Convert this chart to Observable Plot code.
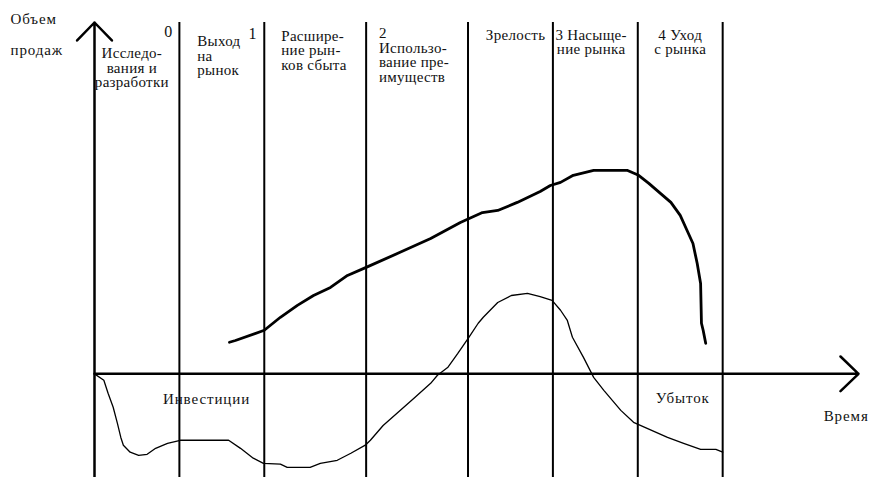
<!DOCTYPE html>
<html><head><meta charset="utf-8">
<script src="https://cdn.jsdelivr.net/npm/d3@7"></script>
<script src="https://cdn.jsdelivr.net/npm/@observablehq/plot@0.6"></script>
<style>
html,body{margin:0;padding:0;background:#fff;}
svg text{font-family:"Liberation Serif","Times New Roman",serif;}
</style>
</head><body><div id="chart"></div>
<script>
// Time axis (stage units) and value axis extents
const xAxisSpan = [0, 9];
const yAxisSpan = [-2.95, 10];

// Stage boundaries along the time axis
const stageBounds = [1, 2, 3.2, 4.4, 5.4, 6.4, 7.4];

// Sales volume curve (thick)
const salesTime = [1.59,1.66,2.00,2.19,2.39,2.58,2.78,2.98,3.20,3.60,3.96,4.31,4.57,4.75,4.98,5.25,5.37,5.49,5.64,5.88,6.28,6.41,6.53,6.67,6.79,6.90,6.99,7.05,7.10,7.14,7.15,7.17,7.20];
const salesVolume = [0.90,0.95,1.24,1.61,1.95,2.23,2.46,2.80,3.03,3.46,3.85,4.31,4.59,4.65,4.88,5.19,5.36,5.45,5.65,5.79,5.79,5.65,5.42,5.13,4.88,4.51,4.03,3.71,3.14,2.57,1.44,1.24,0.87];

// Profit / investment curve (thin)
const profitTime = [0,0.11,0.16,0.22,0.27,0.31,0.34,0.42,0.52,0.62,0.72,0.86,1.01,1.58,1.72,1.87,1.99,2.19,2.27,2.54,2.66,2.86,3.02,3.19,3.25,3.40,3.60,3.76,3.96,4.04,4.16,4.28,4.41,4.52,4.58,4.75,4.91,5.10,5.25,5.39,5.49,5.57,5.63,5.76,5.88,6.00,6.20,6.35,6.51,6.75,6.94,7.14,7.32,7.40];
const profitValue = [0,-0.18,-0.55,-0.95,-1.41,-1.81,-2.03,-2.23,-2.32,-2.29,-2.12,-1.98,-1.89,-1.89,-2.12,-2.40,-2.55,-2.57,-2.66,-2.66,-2.55,-2.46,-2.26,-2.03,-1.89,-1.47,-1.04,-0.70,-0.27,-0.04,0.18,0.58,1.04,1.44,1.61,2.03,2.23,2.29,2.20,2.09,1.81,1.52,1.04,0.47,-0.10,-0.47,-1.04,-1.38,-1.55,-1.81,-1.98,-2.15,-2.15,-2.23];

// Text labels
const stageLabels = ["Исследо-\nвания и\nразработки","Выход\nна\nрынок","Расшире-\nние рын-\nков сбыта","2\nИспользо-\nвание пре-\nимуществ","Зрелость","3 Насыще-\nние рынка","4 Уход\nс рынка"];
const phaseNumbers = ["0","1"];
const yAxisTitle = ["Объем","продаж"];
const xAxisTitle = "Время";
const lossLabels = ["Инвестиции","Убыток"];

// Annotation anchors (built from the labels above)
const stageAnno = stageLabels.map((text,i)=>({text,
  t:[0.44,1.21,2.20,3.35,4.61,5.85,6.90][i],
  v:[9.28,9.62,9.77,9.85,9.80,9.80,9.80][i],
  a:["middle","start","start","start","start","middle","middle"][i]}));
const phaseAnno = phaseNumbers.map((text,i)=>({text, t:[0.87,1.86][i], v:[9.90,9.85][i]}));
const sideAnno = [
  {text: yAxisTitle[0], t:-0.99, v:10.09, a:"start"},
  {text: yAxisTitle[1], t:-0.99, v:9.20, a:"start"},
  {text: lossLabels[0], t:1.32, v:-0.73, a:"middle"},
  {text: lossLabels[1], t:6.93, v:-0.70, a:"middle"},
  {text: xAxisTitle, t:8.59, v:-1.21, a:"start"}
];

const sales = salesTime.map((t,i)=>({t, v:salesVolume[i]}));
const profit = profitTime.map((t,i)=>({t, v:profitValue[i]}));
const axes = [
  {x1:0, y1:yAxisSpan[0], x2:0, y2:yAxisSpan[1]},
  {x1:xAxisSpan[0], y1:0, x2:xAxisSpan[1], y2:0}
];

const font = "Liberation Serif";
const ink = "#111";
const textMarks = [];
for (const anchor of ["start","middle"]) {
  textMarks.push(Plot.text(stageAnno.filter(d=>d.a===anchor), {x:"t", y:"v", text:"text", textAnchor:anchor, lineAnchor:"top", lineHeight:0.97, fontSize:15, fontFamily:font, fill:ink}));
  textMarks.push(Plot.text(sideAnno.filter(d=>d.a===anchor), {x:"t", y:"v", text:"text", textAnchor:anchor, lineAnchor:"middle", fontSize:15, fontFamily:font, fill:ink}));
}

const chart = Plot.plot({
  width: 870, height: 477,
  marginLeft: 94, marginRight: 12, marginTop: 22, marginBottom: 0,
  x: {domain: xAxisSpan, axis: null},
  y: {domain: yAxisSpan, axis: null},
  style: {background: "#fff", overflow: "visible", color: "#000"},
  marks: [
    Plot.ruleX(stageBounds, {x: d=>d, y1: yAxisSpan[1], y2: yAxisSpan[0], stroke: "#000", strokeWidth: 2}),
    Plot.arrow(axes, {x1:"x1", y1:"y1", x2:"x2", y2:"y2", stroke:"#000", strokeWidth:2.5, headAngle:88, headLength:15}),
    Plot.line(profit, {x:"t", y:"v", stroke:"#000", strokeWidth:1.3}),
    Plot.line(sales, {x:"t", y:"v", stroke:"#000", strokeWidth:2.8}),
    ...textMarks,
    Plot.text(phaseAnno, {x:"t", y:"v", text:"text", textAnchor:"middle", lineAnchor:"top", fontSize:16, fontFamily:font, fill:ink})
  ]
});
// letter spacing: wider for axis titles and loss labels, slight for stage labels
const sideTexts = new Set(sideAnno.map(d=>d.text));
d3.select(chart).selectAll("text").each(function(){
  if (phaseNumbers.includes(this.textContent)) return;
  this.style.letterSpacing = sideTexts.has(this.textContent) ? "0.9px" : "0.3px";
});
document.getElementById("chart").appendChild(chart);
</script>
</body></html>
